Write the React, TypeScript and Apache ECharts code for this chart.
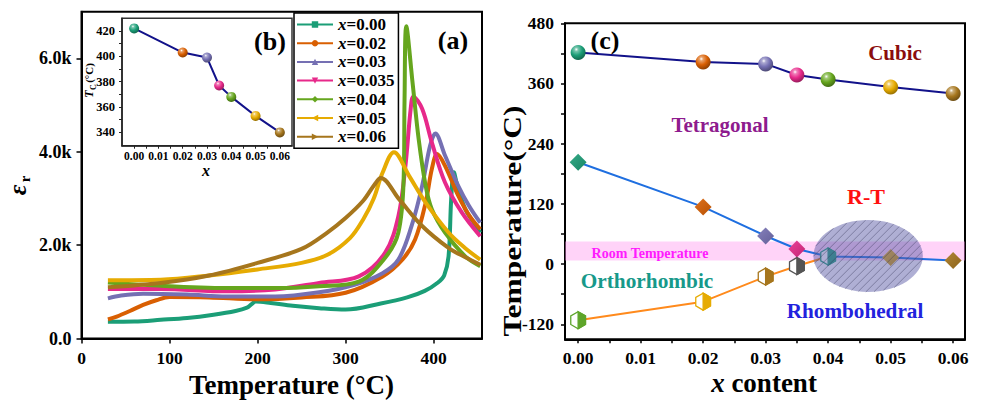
import React, { useEffect, useRef } from 'react';
import * as echarts from 'echarts';

const FONT = '"Liberation Serif", "Times New Roman", serif';

// ---------- Panel (a): dielectric permittivity vs temperature ----------
const SERIES_NAMES = ['x=0.00', 'x=0.02', 'x=0.03', 'x=0.035', 'x=0.04', 'x=0.05', 'x=0.06'];
const COLORS = ['#1b9e77', '#d95f02', '#7570b3', '#e7298a', '#66a61e', '#e6ab02', '#a6761d'];

const T_000 = [30, 60, 90, 120, 150, 175, 188, 193, 198, 215, 240, 270, 300, 340, 370, 390, 405, 412, 417, 420, 423, 427, 436, 445, 453];
const E_000 = [360, 365, 400, 440, 510, 590, 660, 730, 790, 760, 700, 650, 620, 750, 880, 1020, 1200, 1350, 1760, 2980, 3560, 3270, 2770, 2500, 2270];
const T_002 = [30, 40, 55, 70, 85, 100, 145, 200, 250, 300, 342, 365, 379, 391, 398, 404, 413, 428, 440, 453];
const E_002 = [410, 470, 590, 720, 820, 890, 880, 840, 880, 980, 1330, 1700, 2120, 2910, 3630, 3950, 3700, 3060, 2650, 2340];
const T_003 = [30, 45, 70, 120, 165, 220, 270, 310, 342, 360, 375, 387, 396, 402, 413, 428, 440, 453];
const E_003 = [860, 920, 960, 940, 900, 900, 990, 1150, 1400, 1690, 2410, 3270, 4130, 4390, 3920, 3270, 2850, 2480];
const T_0035 = [30, 90, 165, 220, 270, 315, 345, 360, 368, 374, 377, 387, 398, 413, 432, 453];
const E_0035 = [1060, 1060, 1010, 1050, 1190, 1330, 1840, 2620, 3700, 4920, 5180, 4920, 4200, 3340, 2700, 2190];
const T_004 = [30, 70, 165, 220, 270, 315, 345, 360, 366, 367, 369, 376, 383, 391, 398, 413, 436, 453];
const E_004 = [1200, 1150, 1080, 1080, 1120, 1220, 1730, 2270, 3420, 5100, 6690, 5500, 4280, 3270, 2770, 2270, 1760, 1550];
const T_005 = [30, 90, 145, 200, 250, 280, 305, 320, 332, 342, 355, 372, 391, 417, 435, 453];
const E_005 = [1250, 1260, 1350, 1480, 1620, 1800, 2150, 2550, 3000, 3550, 3990, 3490, 2910, 2270, 1950, 1690];
const T_006 = [30, 90, 145, 200, 250, 280, 300, 320, 333, 340, 361, 387, 417, 435, 453];
const E_006 = [1100, 1190, 1350, 1620, 1920, 2280, 2580, 2950, 3300, 3440, 2980, 2410, 1940, 1750, 1580];

const A_X_TICKS = [0, 100, 200, 300, 400];
const A_Y_TICKS = [0, 2000, 4000, 6000];

// ---------- Panel (b) / (c): phase diagram ----------
const X_CONTENT = [0, 0.02, 0.03, 0.035, 0.04, 0.05, 0.06];
const TC = [422, 403, 399, 377, 368, 353, 340];
const T_TR = [203, 114, 56, 30, 15, 13, 7];
const X_OR = [0, 0.02, 0.03, 0.035, 0.04];
const T_OR = [-112, -75, -25, -4, 15];
const HEX_COLORS = ['#5ea52a', '#e6ab02', '#a6761d', '#555555', '#1b9e77'];
const ROOM_T = [7, 45];
const ELLIPSE = [0.0464, 16, 0.00875, 71.6]; // centre x, centre y, radius x, radius y (data units)

const B_X_LABELS = [0, 0.01, 0.02, 0.03, 0.04, 0.05, 0.06];
const B_X_TICKS = [0, 0.005, 0.01, 0.015, 0.02, 0.025, 0.03, 0.035, 0.04, 0.045, 0.05, 0.055, 0.06];
const B_Y_LABELS = [340, 360, 380, 400, 420];
const B_Y_TICKS = [340, 350, 360, 370, 380, 390, 400, 410, 420];
const C_Y_LABELS = [-120, 0, 120, 240, 360, 480];
const C_Y_TICKS = [-120, -60, 0, 60, 120, 180, 240, 300, 360, 420, 480];

function shade(hex: string, f: number) {
  const n = parseInt(hex.slice(1), 16);
  let r = (n >> 16) & 255, g = (n >> 8) & 255, b = n & 255;
  const t = f < 0 ? 0 : 255;
  const p = Math.abs(f);
  r = Math.round(r + (t - r) * p);
  g = Math.round(g + (t - g) * p);
  b = Math.round(b + (t - b) * p);
  return `rgb(${r},${g},${b})`;
}
function sphere(c: string) {
  return new echarts.graphic.RadialGradient(0.38, 0.3, 0.72, [
    { offset: 0, color: '#ffffff' },
    { offset: 0.18, color: shade(c, 0.4) },
    { offset: 0.55, color: c },
    { offset: 1, color: shade(c, -0.35) },
  ]);
}
function diamondFill(c: string) {
  return new echarts.graphic.LinearGradient(0, 0, 1, 1, [
    { offset: 0, color: shade(c, 0.12) },
    { offset: 1, color: shade(c, -0.15) },
  ]);
}

function txt(text: string, x: number, y: number, size: number, color = '#000', opts: any = {}) {
  return {
    type: 'text', x, y, z: 100,
    rotation: opts.rotation || 0,
    scaleX: opts.scaleX || 1,
    style: {
      text, fill: color, fontFamily: FONT, fontWeight: 'bold',
      fontStyle: opts.italic ? 'italic' : 'normal', fontSize: size,
      align: 'center', verticalAlign: 'middle', textAlign: 'center', textVerticalAlign: 'middle',
    },
  };
}

const labelStyle = (size: number, margin: number) => ({
  color: '#000', fontFamily: FONT, fontWeight: 'bold', fontSize: size, margin,
});

function buildOption() {
  const curves = [[T_000, E_000], [T_002, E_002], [T_003, E_003], [T_0035, E_0035], [T_004, E_004], [T_005, E_005], [T_006, E_006]];
  const symbols = ['rect', 'circle', 'triangle', 'path://M0,0L10,0L5,9Z', 'diamond', 'path://M0,5L9,0L9,10Z', 'path://M0,0L9,5L0,10Z'];

  const curveSeries = curves.map(([t, e], i) => ({
    type: 'line', name: SERIES_NAMES[i], xAxisIndex: 0, yAxisIndex: 0,
    data: t.map((x, j) => [x, e[j]]),
    smooth: 0.35, showSymbol: false,
    symbol: symbols[i], symbolSize: 7,
    lineStyle: { width: 4, color: COLORS[i] }, itemStyle: { color: COLORS[i] }, z: 2,
  }));

  const insetSeries = {
    type: 'line', xAxisIndex: 1, yAxisIndex: 1, z: 12,
    data: X_CONTENT.map((x, i) => ({ value: [x, TC[i]], itemStyle: { color: sphere(COLORS[i]) } })),
    symbol: 'circle', symbolSize: 10, showSymbol: true,
    lineStyle: { color: '#12128a', width: 2 },
  };

  const cubicSeries = {
    type: 'line', xAxisIndex: 2, yAxisIndex: 2, z: 4,
    data: X_CONTENT.map((x, i) => ({ value: [x, TC[i]], itemStyle: { color: sphere(COLORS[i]) } })),
    symbol: 'circle', symbolSize: 15, showSymbol: true,
    lineStyle: { color: '#12128a', width: 2 },
  };

  const trSeries = {
    type: 'line', xAxisIndex: 2, yAxisIndex: 2, z: 3,
    data: X_CONTENT.map((x, i) => ({ value: [x, T_TR[i]], itemStyle: { color: diamondFill(COLORS[i]) } })),
    symbol: 'diamond', symbolSize: 17, showSymbol: true,
    lineStyle: { color: '#1f6fe0', width: 2 },
  };

  const orSeries = {
    type: 'line', xAxisIndex: 2, yAxisIndex: 2, z: 3,
    data: X_OR.map((x, i) => [x, T_OR[i]]),
    symbol: 'none', lineStyle: { color: '#ff8a1c', width: 2 },
    markArea: {
      silent: true,
      itemStyle: { color: 'rgba(255,150,238,0.42)' },
      data: [[{ yAxis: ROOM_T[0] }, { yAxis: ROOM_T[1] }]],
    },
  };

  const hexSeries = {
    type: 'custom', xAxisIndex: 2, yAxisIndex: 2, z: 4, silent: true,
    data: X_OR.map((x, i) => [x, T_OR[i]]),
    encode: { x: 0, y: 1 },
    renderItem: (params: any, api: any) => {
      const p = api.coord([api.value(0), api.value(1)]);
      const c = HEX_COLORS[params.dataIndex];
      const r = 8.5, w = r * Math.cos(Math.PI / 6);
      const full = [[0, -r], [w, -r / 2], [w, r / 2], [0, r], [-w, r / 2], [-w, -r / 2]].map(([a, b]) => [p[0] + a, p[1] + b]);
      const half = [[0, -r], [w, -r / 2], [w, r / 2], [0, r]].map(([a, b]) => [p[0] + a, p[1] + b]);
      return {
        type: 'group', children: [
          { type: 'polygon', shape: { points: full }, style: { fill: '#fff', stroke: c, lineWidth: 1.3 } },
          { type: 'polygon', shape: { points: half }, style: { fill: c, stroke: c, lineWidth: 1.3 } },
        ],
      };
    },
  };

  const ellipseSeries = {
    type: 'custom', xAxisIndex: 2, yAxisIndex: 2, z: 6, silent: true,
    data: [ELLIPSE], encode: { x: 0, y: 1 },
    renderItem: (params: any, api: any) => {
      const ctr = api.coord([api.value(0), api.value(1)]);
      const sz = api.size([api.value(2), api.value(3)]);
      const a = Math.abs(sz[0]), b = Math.abs(sz[1]);
      const children: any[] = [{ type: 'ellipse', shape: { cx: ctr[0], cy: ctr[1], rx: a, ry: b }, style: { fill: 'rgba(95,95,170,0.5)' } }];
      const lim = Math.sqrt(a * a + b * b);
      const A = 1 / (a * a) + 1 / (b * b);
      for (let c = -lim + 3; c < lim; c += 8) {
        const B = -2 * c / (b * b), C = c * c / (b * b) - 1;
        const d = B * B - 4 * A * C;
        if (d <= 0) continue;
        const u1 = (-B - Math.sqrt(d)) / (2 * A), u2 = (-B + Math.sqrt(d)) / (2 * A);
        children.push({ type: 'line', shape: { x1: ctr[0] + u1, y1: ctr[1] + c - u1, x2: ctr[0] + u2, y2: ctr[1] + c - u2 }, style: { stroke: 'rgba(50,50,85,0.5)', lineWidth: 0.8 } });
      }
      return { type: 'group', children };
    },
  };

  const axisLine = (w: number, c = '#000') => ({ show: true, onZero: false, lineStyle: { color: c, width: w } });

  return {
    animation: false,
    backgroundColor: '#fff',
    grid: [
      { left: 81.5, top: 11.7, width: 400.5, height: 326.8, show: true, borderColor: '#000', borderWidth: 2, backgroundColor: 'transparent' },
      { left: 122, top: 18.3, width: 170, height: 127.4, show: true, borderColor: '#333', borderWidth: 1.5, backgroundColor: '#fff', z: 5 },
      { left: 565, top: 23.3, width: 400, height: 316, show: true, borderColor: '#000', borderWidth: 2, backgroundColor: 'transparent' },
    ],
    xAxis: [
      {
        gridIndex: 0, type: 'value', min: 0, max: 455,
        axisLine: axisLine(2), splitLine: { show: false },
        axisTick: { length: 5, lineStyle: { width: 1.5, color: '#000' }, customValues: A_X_TICKS },
        axisLabel: { ...labelStyle(17.5, 10), customValues: A_X_TICKS },
      },
      {
        gridIndex: 1, type: 'value', min: -0.005, max: 0.065, z: 6,
        axisLine: axisLine(1.5, '#222'), splitLine: { show: false },
        axisTick: { length: 3, lineStyle: { width: 1, color: '#222' }, customValues: B_X_TICKS },
        axisLabel: { ...labelStyle(11.5, 4), customValues: B_X_LABELS, formatter: (v: number) => v.toFixed(2) },
      },
      {
        gridIndex: 2, type: 'value', min: -0.0021, max: 0.0619,
        axisLine: axisLine(2), splitLine: { show: false },
        axisTick: { length: 4, lineStyle: { width: 1.5, color: '#000' }, customValues: B_X_TICKS },
        axisLabel: { ...labelStyle(17.5, 10), customValues: B_X_LABELS, formatter: (v: number) => v.toFixed(2) },
      },
    ],
    yAxis: [
      {
        gridIndex: 0, type: 'value', min: 0, max: 7000,
        axisLine: axisLine(2), splitLine: { show: false },
        axisTick: { length: 5, lineStyle: { width: 1.5, color: '#000' }, customValues: A_Y_TICKS },
        axisLabel: { ...labelStyle(18, 10), customValues: A_Y_TICKS, formatter: (v: number) => (v === 0 ? '0.0' : (v / 1000).toFixed(1) + 'k') },
      },
      {
        gridIndex: 1, type: 'value', min: 329.5, max: 430, z: 6,
        axisLine: axisLine(1.5, '#222'), splitLine: { show: false },
        axisTick: { length: 3, lineStyle: { width: 1, color: '#222' }, customValues: B_Y_TICKS },
        axisLabel: { ...labelStyle(12.5, 7), customValues: B_Y_LABELS },
      },
      {
        gridIndex: 2, type: 'value', min: -150, max: 480,
        axisLine: axisLine(2), splitLine: { show: false },
        axisTick: { length: 4, lineStyle: { width: 1.5, color: '#000' }, customValues: C_Y_TICKS },
        axisLabel: { ...labelStyle(17.5, 11), customValues: C_Y_LABELS },
      },
    ],
    legend: {
      data: SERIES_NAMES,
      orient: 'vertical', left: 294, top: 13,
      padding: [3, 4, 3, 2],
      itemGap: 1.7, itemWidth: 36, itemHeight: 8,
      backgroundColor: '#fff', borderColor: '#000', borderWidth: 1.5,
      lineStyle: { width: 2 },
      z: 10,
      formatter: (n: string) => `{i|x}{n|${n.slice(1)}}`,
      textStyle: {
        lineHeight: 17,
        rich: {
          i: { fontFamily: FONT, fontWeight: 'bold', fontStyle: 'italic', fontSize: 17, lineHeight: 17, color: '#000' },
          n: { fontFamily: FONT, fontWeight: 'bold', fontSize: 17, lineHeight: 17, color: '#000' },
        },
      },
    },
    series: [...curveSeries, insetSeries, orSeries, trSeries, cubicSeries, hexSeries, ellipseSeries],
    graphic: [
      txt('(a)', 453, 40, 26),
      txt('(b)', 270, 41, 26),
      txt('(c)', 605, 40, 26),
      txt('Temperature (°C)', 291.5, 385, 27),
      txt('ε', 17, 190, 26, '#000', { rotation: Math.PI / 2, italic: true }),
      txt('r', 25, 179, 15, '#000', { rotation: Math.PI / 2 }),
      txt('T', 89, 94, 12, '#000', { rotation: Math.PI / 2, italic: true }),
      txt('C', 93, 87, 8, '#000', { rotation: Math.PI / 2 }),
      txt('(°C)', 89, 73, 11, '#000', { rotation: Math.PI / 2 }),
      txt('x', 206, 170, 16, '#000', { italic: true }),
      txt('Cubic', 895, 53, 21, '#8b0d0d'),
      txt('Tetragonal', 720, 125, 21, '#8e1b8e'),
      txt('R-T', 866, 196, 22, '#ff1010'),
      txt('Orthorhombic', 647, 281, 21.3, '#17998a'),
      txt('Rhombohedral', 855, 311, 21.2, '#2222dd'),
      txt('Room Temperature', 650, 253, 14, '#ff1aff'),
      txt('Temperature(°C)', 513, 221, 25, '#000', { rotation: Math.PI / 2, scaleX: 1.26 }),
      {
        type: 'text', x: 764, y: 383, z: 100,
        style: {
          text: '{i|x}{n| content}',
          align: 'center', verticalAlign: 'middle', textAlign: 'center', textVerticalAlign: 'middle',
          rich: {
            i: { fontFamily: FONT, fontWeight: 'bold', fontStyle: 'italic', fontSize: 27, fill: '#000' },
            n: { fontFamily: FONT, fontWeight: 'bold', fontSize: 27, fill: '#000' },
          },
        },
      },
    ],
  };
}

export default function App() {
  const ref = useRef<HTMLDivElement>(null);
  useEffect(() => {
    const chart = echarts.init(ref.current as HTMLDivElement, null, { renderer: 'svg' });
    chart.setOption(buildOption() as any);
    return () => chart.dispose();
  }, []);
  return (
    <div
      ref={ref}
      style={{ position: 'fixed', left: 0, top: 0, width: 981, height: 402, background: '#fff' }}
    />
  );
}
